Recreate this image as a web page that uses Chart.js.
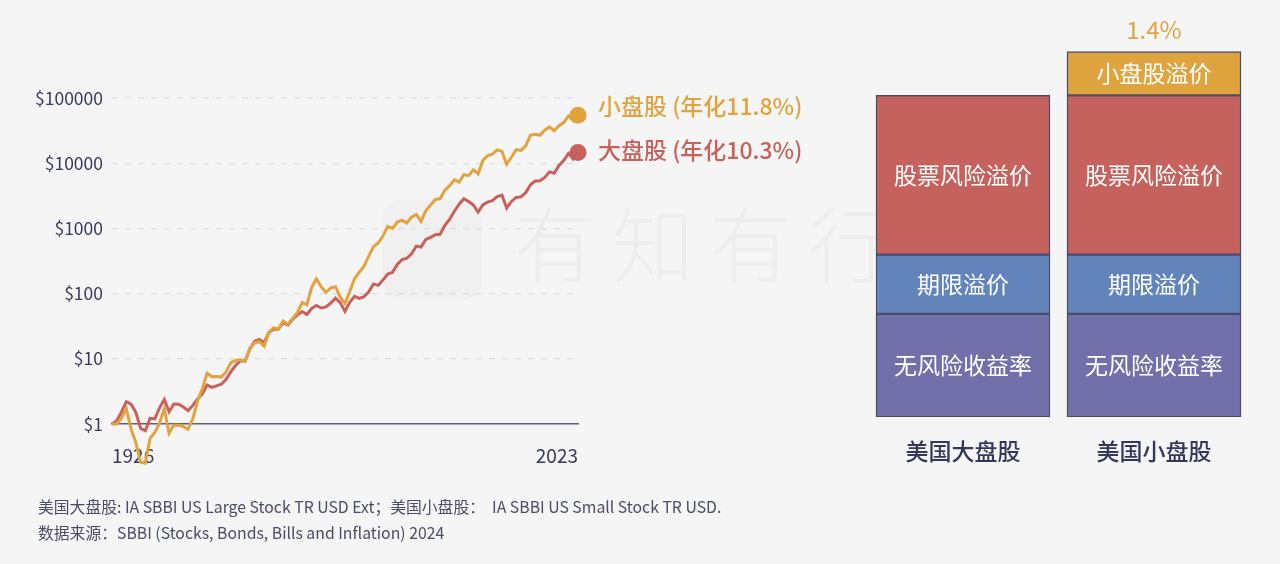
<!DOCTYPE html>
<html>
<head>
<meta charset="utf-8">
<script src="https://cdn.jsdelivr.net/npm/chart.js@4.4.0/dist/chart.umd.min.js"></script>
<style>
  body { margin: 0; width: 1280px; height: 564px; overflow: hidden; position: relative; background: #f5f5f5;
         font-family: "Noto Sans CJK SC", "Noto Sans", sans-serif; }
  #logo { position: absolute; left: 382px; top: 200px; width: 100px; height: 100px; border-radius: 20px; background: #f0f0f0; }
  #wm { position: absolute; left: 514px; top: 200px; font-size: 82px; font-weight: 300; line-height: 1; color: #ededed; letter-spacing: 16px; white-space: nowrap; }
  #lineWrap { position: absolute; left: 0; top: 0; width: 860px; height: 564px; }
  #barWrap { position: absolute; left: 850px; top: 0; width: 430px; height: 564px; }
  .note { position: absolute; left: 38px; font-size: 15.8px; line-height: 18px; color: #4a4d63; white-space: pre; }
</style>
</head>
<body>
<div id="logo"></div>
<div id="wm">有知有行</div>
<div id="lineWrap"><canvas id="lineChart"></canvas></div>
<div id="barWrap"><canvas id="barChart"></canvas></div>
<div class="note" style="top:498px">美国大盘股: IA SBBI US Large Stock TR USD Ext；美国小盘股：  IA SBBI US Small Stock TR USD.</div>
<div class="note" style="top:524px">数据来源：SBBI (Stocks, Bonds, Bills and Inflation) 2024</div>
<script>
// growth of $1, year-end values, 1925 = $1
const startYear = 1925;
const endYear = 2023;
const years = [];
for (let y = startYear; y <= endYear; y++) years.push(y);

const smallCap = [
  1,
  1.00, 1.23, 1.72, 0.84, 0.52, 0.26, 0.25, 0.60, 0.74, 1.04,
  1.71, 0.72, 0.96, 0.96, 0.91, 0.83, 1.20, 2.25, 3.46, 6.01,
  5.31, 5.36, 5.25, 6.28, 8.72, 9.40, 9.68, 9.05, 14.54, 17.50,
  18.25, 15.59, 25.71, 29.92, 28.93, 38.22, 33.67, 41.62, 51.40, 72.89,
  67.79, 124.46, 169.26, 126.78, 104.72, 121.99, 127.36, 88.01, 70.49, 107.72,
  169.54, 212.61, 262.57, 376.79, 527.13, 600.40, 768.51, 1073.6, 1001.7, 1249.1,
  1335.3, 1211.1, 1488.5, 1640.3, 1286.0, 1859.5, 2292.8, 2774.3, 2860.3, 3847.0,
  4524.1, 5555.6, 5150.1, 6684.8, 6444.1, 7913.4, 6860.9, 11025, 13054, 13798,
  16034, 15200, 9622, 12325, 16183, 15649, 18497, 26839, 27859, 26828,
  32000, 36000, 31500, 37500, 42000, 53000, 45000, 54500
];
const largeCap = [
  1,
  1.12, 1.53, 2.20, 2.02, 1.52, 0.86, 0.79, 1.22, 1.20, 1.77,
  2.37, 1.54, 2.02, 2.01, 1.82, 1.60, 1.93, 2.42, 2.90, 3.96,
  3.64, 3.85, 4.07, 4.83, 6.36, 7.89, 9.34, 9.25, 14.12, 18.57,
  19.80, 17.66, 25.32, 28.36, 28.50, 36.16, 33.02, 40.55, 47.24, 53.14,
  47.77, 59.24, 65.81, 60.22, 62.63, 71.59, 85.19, 72.67, 53.41, 73.28,
  90.72, 84.19, 89.75, 106.26, 140.69, 133.80, 162.43, 198.98, 211.51, 279.62,
  331.35, 348.58, 407.14, 535.39, 518.26, 676.33, 728.41, 801.25, 811.67, 1115.23,
  1372.85, 1831.38, 2355.15, 2849.73, 2590.41, 2282.15, 1777.79, 2288.02, 2537.41, 2661.74,
  3082.29, 3251.82, 2048.65, 2591.54, 2982.86, 3045.50, 3532.78, 4677.40, 5318.20, 5392.66,
  6039.78, 7356.45, 7032.77, 9248.09, 10949.74, 14092.32, 11541.61, 14577.05
];
const seriesLabels = ['小盘股 (年化11.8%)', '大盘股 (年化10.3%)'];
const xTickLabels = ['1926', '2023'];
const yTicks = [1, 10, 100, 1000, 10000, 100000];

// return decomposition, % per year
const barCategories = ['美国大盘股', '美国小盘股'];
const segmentNames = ['无风险收益率', '期限溢价', '股票风险溢价', '小盘股溢价'];
const riskFree = [3.3, 3.3];
const termPremium = [1.9, 1.9];
const equityPremium = [5.1, 5.1];
const smallPremium = [null, 1.4];

const ORANGE = '#e1a33d';
const RED = '#c8605b';
const TEXT = '#383c5a';
const FONT = '"Noto Sans CJK SC", "Noto Sans", sans-serif';

const endLabels = {
  id: 'endLabels',
  afterDatasetsDraw(chart, args, opts) {
    const ctx = chart.ctx;
    chart.data.datasets.forEach((ds, i) => {
      const meta = chart.getDatasetMeta(i);
      const pt = meta.data[meta.data.length - 1];
      ctx.save();
      ctx.font = '500 23px ' + FONT;
      ctx.fillStyle = ds.borderColor;
      ctx.textBaseline = 'middle';
      ctx.fillText(seriesLabels[i], pt.x + opts.gap, pt.y + opts.dy[i]);
      ctx.restore();
    });
  }
};

const lastIdx = years.length - 1;
new Chart(document.getElementById('lineChart'), {
  type: 'line',
  data: {
    datasets: [
      { data: years.map((y, i) => ({ x: y, y: smallCap[i] })), borderColor: ORANGE, backgroundColor: ORANGE },
      { data: years.map((y, i) => ({ x: y, y: largeCap[i] })), borderColor: RED, backgroundColor: RED }
    ]
  },
  options: {
    responsive: true,
    maintainAspectRatio: false,
    animation: false,
    layout: { padding: { left: 0, top: 98, right: 282, bottom: 0 } },
    datasets: {
      line: {
        borderWidth: 3,
        tension: 0,
        clip: false,
        pointBorderWidth: 0,
        pointRadius: c => c.dataIndex === lastIdx ? 8.5 : 0,
        pointHoverRadius: 0
      }
    },
    plugins: {
      legend: { display: false },
      tooltip: { enabled: false },
      endLabels: { gap: 20, dy: [-9, -2] }
    },
    scales: {
      x: {
        type: 'linear',
        min: startYear,
        max: endYear,
        grid: { display: false, drawTicks: false },
        border: { display: true, color: '#5c5f73', width: 1.5 },
        afterBuildTicks: s => { s.ticks = [{ value: startYear }, { value: endYear }]; },
        afterFit: s => { s.height = 140; },
        ticks: {
          align: 'inner', maxRotation: 0, padding: 20, color: TEXT,
          font: { family: FONT, size: 19 },
          callback: (v, i) => xTickLabels[i]
        }
      },
      y: {
        type: 'logarithmic',
        min: 1,
        max: 100000,
        afterBuildTicks: s => { s.ticks = yTicks.map(v => ({ value: v })); },
        afterFit: s => { s.width = 112; },
        grid: {
          drawTicks: false,
          lineWidth: 1.2,
          color: c => (c.tick && c.tick.value === 1) ? 'rgba(0,0,0,0)' : '#dcdce8'
        },
        border: { display: false, dash: [6, 7] },
        ticks: {
          padding: 9, color: TEXT,
          font: { family: FONT, size: 17.5 },
          callback: v => '$' + v
        }
      }
    }
  },
  plugins: [endLabels]
});

const barLabels = {
  id: 'barLabels',
  afterDatasetsDraw(chart) {
    const ctx = chart.ctx;
    const n = chart.data.datasets.length;
    ctx.save();
    ctx.textAlign = 'center';
    ctx.textBaseline = 'middle';
    chart.data.datasets.forEach((ds, i) => {
      chart.getDatasetMeta(i).data.forEach((bar, j) => {
        const v = ds.data[j];
        if (v == null) return;
        const p = bar.getProps(['x', 'y', 'base'], true);
        ctx.font = '400 23px ' + FONT;
        ctx.fillStyle = '#ffffff';
        ctx.fillText(ds.label, p.x, (p.y + p.base) / 2);
        if (i === n - 1) {
          ctx.font = '400 24px ' + FONT;
          ctx.fillStyle = ds.backgroundColor;
          ctx.fillText(v.toFixed(1) + '%', p.x, p.y - 22);
        }
      });
    });
    const xs = chart.scales.x;
    ctx.font = '500 23px ' + FONT;
    ctx.fillStyle = '#33375a';
    barCategories.forEach((c, j) => {
      ctx.fillText(c, xs.getPixelForValue(j), chart.chartArea.bottom + 34);
    });
    ctx.restore();
  }
};

const segColors = ['#7170aa', '#6384ba', '#c6625d', '#e0a43e'];
new Chart(document.getElementById('barChart'), {
  type: 'bar',
  data: {
    labels: barCategories,
    datasets: [riskFree, termPremium, equityPremium, smallPremium].map((d, i) => ({
      label: segmentNames[i],
      data: d,
      backgroundColor: segColors[i]
    }))
  },
  options: {
    responsive: true,
    maintainAspectRatio: false,
    animation: false,
    layout: { padding: { left: 17.5, right: 30.5, top: 42.2, bottom: 147 } },
    datasets: { bar: { barThickness: 174, borderColor: '#4a4c6b', borderWidth: 1.5, borderSkipped: false } },
    plugins: { legend: { display: false }, tooltip: { enabled: false } },
    scales: {
      x: { stacked: true, display: false },
      y: { stacked: true, display: false, min: 0, max: 12 }
    }
  },
  plugins: [barLabels]
});
</script>
</body>
</html>
